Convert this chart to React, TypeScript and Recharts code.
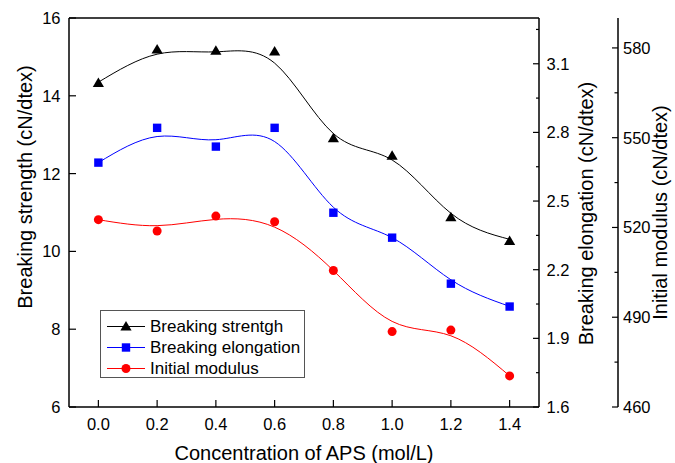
import React from "react";
import { ComposedChart, Line, Scatter, XAxis, YAxis, ReferenceLine } from "recharts";

const FONT = '"Liberation Sans", Arial, Helvetica, sans-serif';

// concentration of APS (mol/L)
const concentration = [0, 0.2, 0.4, 0.6, 0.8, 1.0, 1.2, 1.4];

// measured points
const strength = [14.33, 15.19, 15.16, 15.14, 12.91, 12.46, 10.88, 10.27];
const elongation = [2.668, 2.82, 2.738, 2.82, 2.449, 2.34, 2.139, 2.039];
const modulus = [522.6, 518.8, 523.8, 521.9, 505.6, 485.2, 485.7, 470.4];

// smoothed curves at each concentration
const strengthFit = [14.35, 15.07, 15.13, 14.84, 13.03, 12.35, 10.98, 10.31];
const elongationFit = [2.668, 2.782, 2.768, 2.76, 2.473, 2.34, 2.156, 2.04];
const modulusFit = [522.6, 520.6, 522.7, 520.1, 505.6, 488.6, 483.8, 470.4];

const xTicks = [0, 0.2, 0.4, 0.6, 0.8, 1.0, 1.2, 1.4];
const strengthTicks = [6, 8, 10, 12, 14, 16];
const elongationTicks = [1.6, 1.75, 1.9, 2.05, 2.2, 2.35, 2.5, 2.65, 2.8, 2.95, 3.1, 3.25];
const modulusTicks = [460, 475, 490, 505, 520, 535, 550, 565, 580];

const data = concentration.map((c, i) => ({
  c,
  strength: strength[i],
  elongation: elongation[i],
  modulus: modulus[i],
  strengthFit: strengthFit[i],
  elongationFit: elongationFit[i],
  modulusFit: modulusFit[i],
}));

const TICK_FS = 16.5;
const MARGIN = 10;

const BottomTick = (props: any) => {
  const { x, y, payload } = props;
  const axisY = y - MARGIN;
  return (
    <g>
      <line x1={x} x2={x} y1={axisY} y2={axisY - 7} stroke="#000" strokeWidth={1.2} />
      <text x={x} y={axisY + 23} textAnchor="middle" fontSize={TICK_FS} fontFamily={FONT} fill="#000">
        {Number(payload.value).toFixed(1)}
      </text>
    </g>
  );
};

const LeftTick = (props: any) => {
  const { x, y, payload } = props;
  const axisX = x + MARGIN;
  return (
    <g>
      <line x1={axisX} x2={axisX + 7} y1={y} y2={y} stroke="#000" strokeWidth={1.2} />
      <text x={axisX - 8.5} y={y + 6} textAnchor="end" fontSize={TICK_FS} fontFamily={FONT} fill="#000">
        {payload.value}
      </text>
    </g>
  );
};

const ElongationTick = (props: any) => {
  const { x, y, payload } = props;
  const axisX = x - MARGIN;
  const major = Math.round((payload.value - 1.6) / 0.15) % 2 === 0;
  return (
    <g>
      <line x1={axisX} x2={axisX - (major ? 6 : 3)} y1={y} y2={y} stroke="#000" strokeWidth={1.2} />
      {major && (
        <text x={axisX + 7.5} y={y + 6} textAnchor="start" fontSize={TICK_FS} fontFamily={FONT} fill="#000">
          {Number(payload.value).toFixed(1)}
        </text>
      )}
    </g>
  );
};

const ModulusTick = (props: any) => {
  const { x, y, payload } = props;
  const axisX = x - MARGIN;
  const major = (payload.value - 460) % 30 === 0;
  return (
    <g>
      <line x1={axisX} x2={axisX - (major ? 6 : 3.5)} y1={y} y2={y} stroke="#000" strokeWidth={1.2} />
      {major && (
        <text x={axisX + 5} y={y + 6} textAnchor="start" fontSize={TICK_FS} fontFamily={FONT} fill="#000">
          {payload.value}
        </text>
      )}
    </g>
  );
};

const title = (text: string, x: number, y: number, angle: number) => () =>
  (
    <text
      x={x}
      y={y}
      transform={angle ? `rotate(${angle} ${x} ${y})` : undefined}
      textAnchor="middle"
      fontSize={20}
      fontFamily={FONT}
      fill="#000"
    >
      {text}
    </text>
  );

const Triangle = (props: any) => {
  const { cx, cy } = props;
  if (cx == null || cy == null) return null;
  return <polygon points={`${cx},${cy - 5.5} ${cx - 5.6},${cy + 4} ${cx + 5.6},${cy + 4}`} fill="#000" />;
};

const Square = (props: any) => {
  const { cx, cy } = props;
  if (cx == null || cy == null) return null;
  return <rect x={cx - 4.2} y={cy - 4.2} width={8.4} height={8.4} fill="#0000ff" />;
};

const Dot = (props: any) => {
  const { cx, cy } = props;
  if (cx == null || cy == null) return null;
  return <circle cx={cx} cy={cy} r={4.5} fill="#ff0000" />;
};

const legendItems = [
  { name: "Breaking strentgh", color: "#000000", shape: "triangle" },
  { name: "Breaking elongation", color: "#0000ff", shape: "square" },
  { name: "Initial modulus", color: "#ff0000", shape: "circle" },
];

const LegendBox = () => (
  <div
    style={{
      position: "absolute",
      left: 100,
      top: 310,
      width: 205,
      height: 68,
      boxSizing: "border-box",
      border: "1px solid #555",
      background: "#fff",
      fontFamily: FONT,
      fontSize: 17,
    }}
  >
    {legendItems.map((it, i) => (
      <div key={it.name} style={{ position: "absolute", left: 0, top: 5 + i * 20.8, height: 21, display: "flex", alignItems: "center" }}>
        <svg width={48} height={21} style={{ display: "block" }}>
          <line x1={6} x2={44} y1={10.5} y2={10.5} stroke={it.color} strokeWidth={1} />
          {it.shape === "triangle" && <polygon points="25,5 19.4,14.5 30.6,14.5" fill={it.color} />}
          {it.shape === "square" && <rect x={20.8} y={6.3} width={8.4} height={8.4} fill={it.color} />}
          {it.shape === "circle" && <circle cx={25} cy={10.5} r={4.5} fill={it.color} />}
        </svg>
        <span style={{ marginLeft: 1, lineHeight: "21px", whiteSpace: "nowrap" }}>{it.name}</span>
      </div>
    ))}
  </div>
);

const App = () => {
  return (
    <div style={{ position: "absolute", left: 0, top: 0, width: 675, height: 463, background: "#fff" }}>
      <ComposedChart width={675} height={463} data={data} margin={{ top: 18, right: 0, bottom: 0, left: 0 }}>
        <XAxis
          dataKey="c"
          type="number"
          domain={[-0.1, 1.5]}
          ticks={xTicks}
          interval={0}
          height={56}
          tickSize={0}
          tickMargin={MARGIN}
          tick={<BottomTick />}
          axisLine={{ stroke: "#000", strokeWidth: 1.5 }}
          allowDataOverflow
          label={title("Concentration of APS (mol/L)", 304, 459.5, 0)}
        />
        <YAxis
          yAxisId="s"
          orientation="left"
          domain={[6, 16]}
          ticks={strengthTicks}
          interval={0}
          width={69}
          tickSize={0}
          tickMargin={MARGIN}
          tick={<LeftTick />}
          axisLine={{ stroke: "#000", strokeWidth: 1.5 }}
          allowDataOverflow
          label={title("Breaking strength (cN/dtex)", 32, 187, -90)}
        />
        <YAxis
          yAxisId="e"
          orientation="right"
          domain={[1.6, 3.3]}
          ticks={elongationTicks}
          interval={0}
          width={79}
          tickSize={0}
          tickMargin={MARGIN}
          tick={<ElongationTick />}
          axisLine={{ stroke: "#000", strokeWidth: 1.5 }}
          allowDataOverflow
          label={title("Breaking elongation (cN/dtex)", 593, 213.5, -90)}
        />
        <YAxis
          yAxisId="m"
          orientation="right"
          domain={[460, 590]}
          ticks={modulusTicks}
          interval={0}
          width={57}
          tickSize={0}
          tickMargin={MARGIN}
          tick={<ModulusTick />}
          axisLine={{ stroke: "#000", strokeWidth: 1.5 }}
          allowDataOverflow
          label={title("Initial modulus (cN/dtex)", 667, 212.5, -90)}
        />
        <ReferenceLine yAxisId="s" y={16} stroke="#000" strokeWidth={1.5} />

        <Line yAxisId="s" type="natural" dataKey="strengthFit" stroke="#000" strokeWidth={1} dot={false} isAnimationActive={false} />
        <Line yAxisId="e" type="natural" dataKey="elongationFit" stroke="#0000ff" strokeWidth={1} dot={false} isAnimationActive={false} />
        <Line yAxisId="m" type="natural" dataKey="modulusFit" stroke="#ff0000" strokeWidth={1} dot={false} isAnimationActive={false} />

        <Scatter yAxisId="s" dataKey="strength" shape={<Triangle />} isAnimationActive={false} />
        <Scatter yAxisId="e" dataKey="elongation" shape={<Square />} isAnimationActive={false} />
        <Scatter yAxisId="m" dataKey="modulus" shape={<Dot />} isAnimationActive={false} />
      </ComposedChart>
      <LegendBox />
    </div>
  );
};

export default App;
